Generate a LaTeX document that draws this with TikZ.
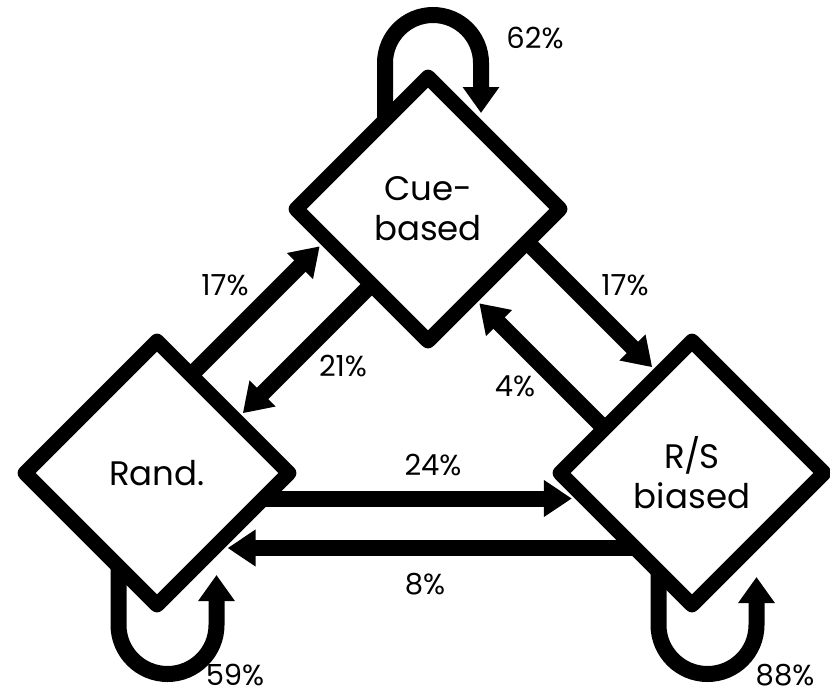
\documentclass[tikz,border=0pt]{standalone}
\usepackage{fontspec}
\setmainfont{Poppins}
\usetikzlibrary{shapes.geometric,arrows.meta,calc,backgrounds}
\tikzset{
  state/.style={draw=black, fill=white, shape=diamond, aspect=1, inner sep=0pt,
    minimum width=270pt, minimum height=270pt, line width=15pt, line join=round,
    align=center, font=\fontsize{34}{40}\selectfont},
  conn/.style={draw=black, line width=16pt, -{Triangle[length=28pt,width=35pt]}},
  loopconn/.style={draw=black, line width=16pt, -{Triangle[length=26pt,width=35pt]}},
  pct/.style={inner sep=0pt, font=\fontsize{29}{34}\selectfont}
}
\begin{document}
\begin{tikzpicture}[x=1pt,y=-1pt]
\useasboundingbox (0,0) rectangle (830,694);
\node[state] (cue) at (428,209) {Cue-\\based};
\node[state] (rand) at (157,473) {Rand.};
\node[state] (rs) at (692,473) {R\kern-1pt/\kern-1pt S\\biased};

\begin{scope}[on background layer]
% Rand <-> Cue
\draw[conn] ($(rand)+(31.5,-95.5)$) -- ($(cue)+(-108.3,37.3)$);
\draw[conn] ($(cue)+(-54,73)$) -- ($(rand)+(85.8,-59.8)$);
% Cue <-> R/S
\draw[conn] ($(cue)+(97,31)$) -- ($(rs)+(-39.8,-105.8)$);
\draw[conn] ($(rs)+(-85,-42)$) -- ($(cue)+(51.3,94.3)$);
% Rand <-> R/S
\draw[conn] ($(rand)+(105,25.5)$) -- ($(rs)+(-120.1,25.5)$);
\draw[conn] ($(rs)+(-56,75)$) -- ($(rand)+(70.6,75)$);
% self loops
\draw[loopconn] ($(cue)+(-43,-87)$) -- ++(0,-59) arc[start angle=180, end angle=0, radius=48pt] -- ($(cue)+(53,-96)$);
\draw[loopconn] ($(rand)+(-38.5,91)$) -- ++(0,61) arc[start angle=180, end angle=360, radius=49pt] -- ($(rand)+(59.5,102)$);
\draw[loopconn] ($(rs)+(-33.5,96)$) -- ++(0,56) arc[start angle=180, end angle=360, radius=49pt] -- ($(rs)+(64.5,104)$);
\end{scope}

\node[pct] (l62) at (535,38) {62\%};
\node[pct] (l17a) at (225,285) {17\%};
\node[pct] (l21) at (343,366) {21\%};
\node[pct] (l17b) at (625,285) {17\%};
\node[pct] (l4) at (515,386) {4\%};
\node[pct] (l24) at (433,465) {24\%};
\node[pct] (l8) at (425,584) {8\%};
\node[pct] (l59) at (235,675) {59\%};
\node[pct] (l88) at (785,675) {88\%};
\end{tikzpicture}
\end{document}
